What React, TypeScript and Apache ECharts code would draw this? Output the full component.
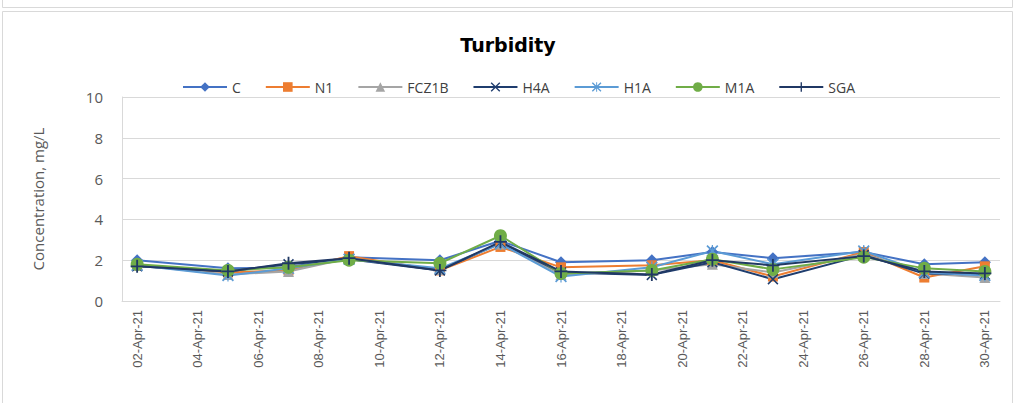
import React, { useEffect, useRef } from "react";
import * as echarts from "echarts";

const days = [
  "02-Apr-21", "03-Apr-21", "04-Apr-21", "05-Apr-21", "06-Apr-21", "07-Apr-21", "08-Apr-21",
  "09-Apr-21", "10-Apr-21", "11-Apr-21", "12-Apr-21", "13-Apr-21", "14-Apr-21", "15-Apr-21",
  "16-Apr-21", "17-Apr-21", "18-Apr-21", "19-Apr-21", "20-Apr-21", "21-Apr-21", "22-Apr-21",
  "23-Apr-21", "24-Apr-21", "25-Apr-21", "26-Apr-21", "27-Apr-21", "28-Apr-21", "29-Apr-21",
  "30-Apr-21",
];

const sampleDates = [
  "02-Apr-21", "05-Apr-21", "07-Apr-21", "09-Apr-21", "12-Apr-21", "14-Apr-21", "16-Apr-21",
  "19-Apr-21", "21-Apr-21", "23-Apr-21", "26-Apr-21", "28-Apr-21", "30-Apr-21",
];

const C = [2.0, 1.6, 1.65, 2.15, 2.0, 2.95, 1.9, 2.0, 2.4, 2.1, 2.4, 1.8, 1.9];
const N1 = [1.75, 1.4, 1.5, 2.2, 1.5, 2.65, 1.65, 1.75, 2.0, 1.2, 2.4, 1.15, 1.7];
const FCZ1B = [1.75, 1.3, 1.45, 2.1, 1.55, 2.8, 1.3, 1.5, 1.8, 1.4, 2.3, 1.35, 1.15];
const H4A = [1.7, 1.45, 1.8, 2.05, 1.5, 2.85, 1.4, 1.28, 1.9, 1.07, 2.25, 1.35, 1.3];
const H1A = [1.75, 1.25, 1.6, 2.05, 1.6, 2.8, 1.2, 1.65, 2.45, 1.8, 2.45, 1.4, 1.25];
const M1A = [1.8, 1.5, 1.65, 2.0, 1.85, 3.2, 1.35, 1.5, 2.05, 1.55, 2.15, 1.6, 1.45];
const SGA = [1.7, 1.45, 1.85, 2.1, 1.5, 2.9, 1.45, 1.3, 2.0, 1.75, 2.2, 1.45, 1.35];

const PLUS = "path://M4.3,0 H5.7 V4.3 H10 V5.7 H5.7 V10 H4.3 V5.7 H0 V4.3 H4.3 Z";
const CROSS = "path://M0,1 L1,0 L5,4 L9,0 L10,1 L6,5 L10,9 L9,10 L5,6 L1,10 L0,9 L4,5 Z";
const STAR =
  "path://M4.5,0 H5.5 V10 H4.5 Z M0,1 L1,0 L5,4 L9,0 L10,1 L6,5 L10,9 L9,10 L5,6 L1,10 L0,9 L4,5 Z";

const seriesDefs = [
  { name: "C", data: C, color: "#4472C4", symbol: "diamond", size: 12 },
  { name: "N1", data: N1, color: "#ED7D31", symbol: "rect", size: 10 },
  { name: "FCZ1B", data: FCZ1B, color: "#A5A5A5", symbol: "triangle", size: 11 },
  { name: "H4A", data: H4A, color: "#1F3D6E", symbol: CROSS, size: 11 },
  { name: "H1A", data: H1A, color: "#5B9BD5", symbol: STAR, size: 12 },
  { name: "M1A", data: M1A, color: "#70AD47", symbol: "circle", size: 13 },
  { name: "SGA", data: SGA, color: "#203864", symbol: PLUS, size: 13 },
];

export default function App() {
  const ref = useRef<HTMLDivElement>(null);
  useEffect(() => {
    if (!ref.current) return;
    const chart = echarts.init(ref.current, null, { renderer: "svg" });
    chart.setOption({
      animation: false,
      backgroundColor: "#ffffff",
      graphic: [
        {
          type: "rect",
          shape: { x: 2.5, y: -10, width: 1010, height: 17.5 },
          style: { fill: "none", stroke: "#D9D9D9", lineWidth: 1 },
        },
        {
          type: "rect",
          shape: { x: 2.5, y: 11.5, width: 1010, height: 400 },
          style: { fill: "none", stroke: "#D9D9D9", lineWidth: 1 },
        },
      ],
      title: {
        text: "Turbidity",
        left: "center",
        top: 30,
        textStyle: {
          fontFamily: "DejaVu Sans",
          fontSize: 19,
          fontWeight: "bold",
          color: "#000000",
        },
      },
      legend: {
        top: 75,
        left: 177,
        itemWidth: 44,
        itemHeight: 12,
        itemGap: 24,
        textStyle: { fontFamily: "Open Sans", fontSize: 14, color: "#404040" },
        data: seriesDefs.map((s) => ({ name: s.name })),
      },
      grid: { left: 122, right: 16, top: 97, bottom: 102, containLabel: false },
      xAxis: {
        type: "category",
        data: days,
        boundaryGap: true,
        axisLine: { show: true, lineStyle: { color: "#D9D9D9", width: 1 } },
        axisTick: { show: false },
        axisLabel: {
          rotate: 90,
          interval: 1,
          margin: 9,
          fontFamily: "Liberation Sans",
          fontSize: 13,
          color: "#595959",
        },
        splitLine: { show: false },
      },
      yAxis: {
        type: "value",
        min: 0,
        max: 10,
        interval: 2,
        name: "Concentration, mg/L",
        nameLocation: "middle",
        nameGap: 77,
        nameTextStyle: { fontFamily: "Open Sans", fontSize: 15, color: "#595959" },
        axisLine: { show: true, lineStyle: { color: "#D9D9D9", width: 1 } },
        axisTick: { show: false },
        axisLabel: {
          margin: 19,
          fontFamily: "Open Sans",
          fontSize: 15,
          color: "#595959",
        },
        splitLine: { show: true, lineStyle: { color: "#D9D9D9", width: 1 } },
      },
      series: seriesDefs.map((s) => ({
        name: s.name,
        type: "line",
        data: sampleDates.map((d, i) => [d, s.data[i]]),
        symbol: s.symbol,
        symbolSize: s.size,
        showSymbol: true,
        lineStyle: { color: s.color, width: 2 },
        itemStyle: { color: s.color, opacity: 1 },
        emphasis: { disabled: true },
      })),
    });
    return () => chart.dispose();
  }, []);
  return (
    <div
      ref={ref}
      style={{ position: "absolute", left: 0, top: 0, width: 1016, height: 403 }}
    />
  );
}
